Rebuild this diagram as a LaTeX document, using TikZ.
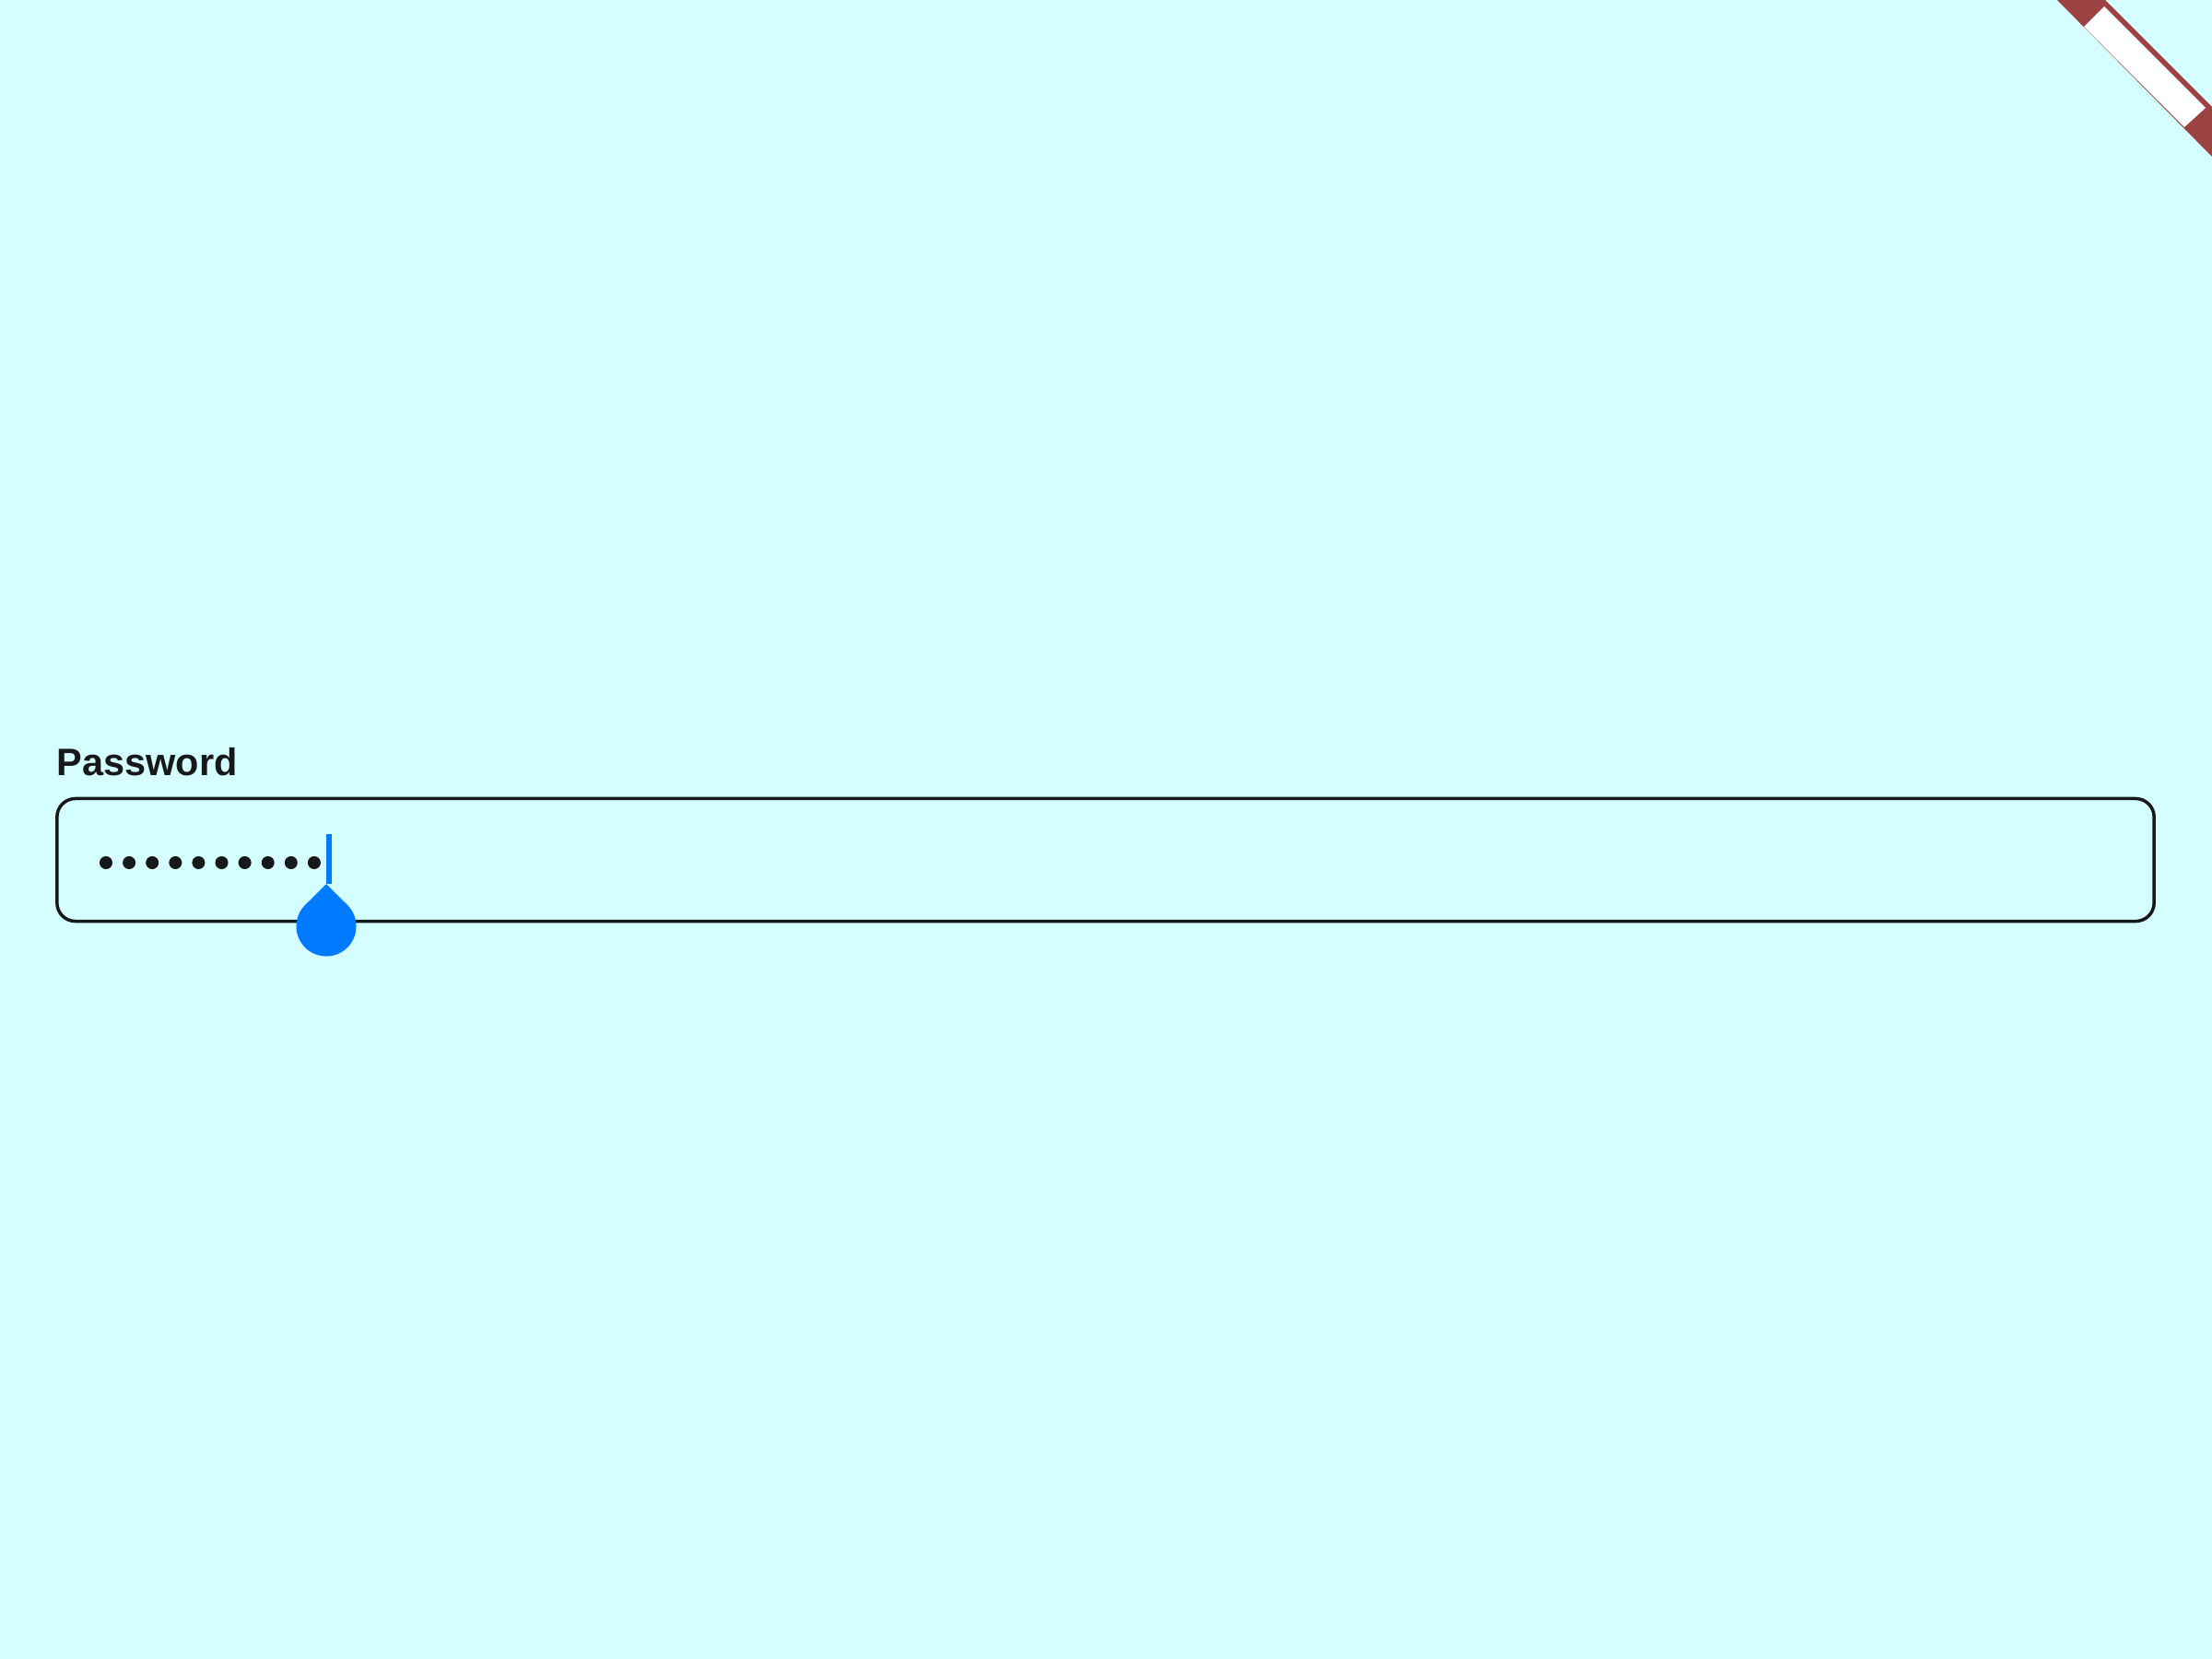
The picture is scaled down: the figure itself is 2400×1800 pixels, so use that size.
\documentclass[tikz,border=0pt]{standalone}
\usepackage{fontspec}
\setmainfont{Liberation Sans}
\definecolor{bg}{HTML}{D5FFFF}
\definecolor{ink}{HTML}{17181A}
\definecolor{cursorblue}{HTML}{007AFF}
\definecolor{ribbon}{HTML}{9C4242}
\tikzset{
  fieldbox/.style={draw=ink, line width=0.035cm, rounded corners=0.2cm, inner sep=0pt,
    minimum width=22.74cm, minimum height=1.33cm},
  dotmark/.style={circle, fill=ink, inner sep=0pt, minimum size=0.14cm},
  labeltext/.style={anchor=base west, inner sep=0pt, text=ink, font=\fontsize{11.8pt}{14pt}\selectfont\bfseries},
}
\begin{document}
\begin{tikzpicture}[x=0.01cm, y=-0.01cm]
\useasboundingbox (0,0) rectangle (2400,1800);
\fill[bg] (0,0) rectangle (2400,1800);
% corner ribbon
\begin{scope}
\clip (0,0) rectangle (2400,1800);
\fill[ribbon] (2230,-2) -- (2282,-2) -- (2402,118) -- (2402,172) -- cycle;
\fill[white] (2283,7) -- (2393,117) -- (2370,138) -- (2261,29) -- cycle;
\end{scope}
% label
\node[labeltext] (label) at (61,841) {Password};
% field
\node[fieldbox] (field) at (1199.5,933) {};
% dots
\foreach \i in {0,...,9} {
  \node[dotmark] (d\i) at ({115+25.1*\i},936) {};
}
% cursor
\fill[cursorblue] (354,905) rectangle (360,959);
\coordinate (tip) at (354,959);
\coordinate (hc) at (354,1005);
\fill[cursorblue] (hc) circle [radius=0.325cm];
\fill[cursorblue] (hc) -- (331,982) -- (tip) -- (377,982) -- cycle;
\end{tikzpicture}
\end{document}
